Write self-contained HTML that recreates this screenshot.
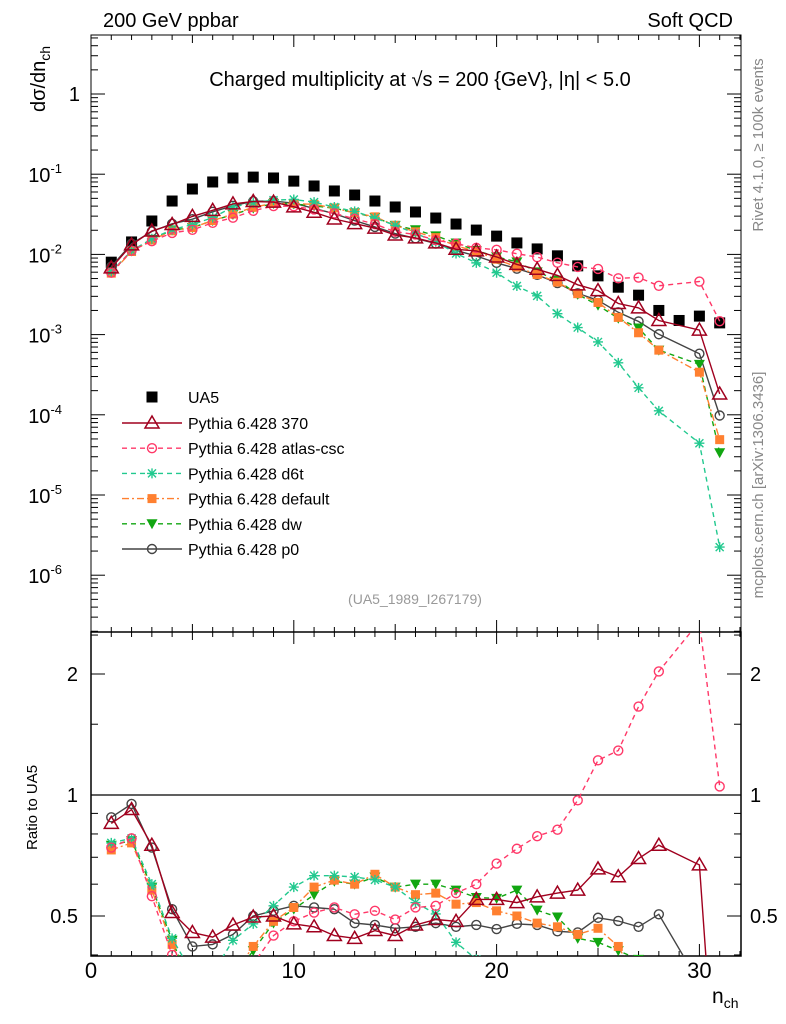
<!DOCTYPE html>
<html><head><meta charset="utf-8"><style>
html,body{margin:0;background:#fff;width:786px;height:1024px;overflow:hidden}
svg{display:block;font-family:"Liberation Sans",sans-serif}
</style></head><body>
<div style="position:relative;width:786px;height:1024px;overflow:hidden">
<svg id="c" width="786" height="1024" viewBox="0 0 786 1024" style="position:absolute;left:0;top:0"></svg>
<svg width="786" height="1024" style="position:absolute;left:0;top:0">
<g font-family="Liberation Sans, sans-serif">
<text x="103" y="27" font-size="20">200 GeV ppbar</text>
<text x="733" y="27" font-size="20" text-anchor="end">Soft QCD</text>
<text x="420" y="86" font-size="20" text-anchor="middle">Charged multiplicity at √s = 200 {GeV}, |η| &lt; 5.0</text>
<text transform="translate(45,112) rotate(-90)" font-size="20">dσ/dn<tspan font-size="14" dy="5">ch</tspan></text>
<text transform="translate(37,850) rotate(-90)" font-size="15">Ratio to UA5</text>
<text x="712" y="1003" font-size="21">n<tspan font-size="14" dy="5">ch</tspan></text>
<text x="415" y="604" font-size="14" fill="#999" text-anchor="middle">(UA5_1989_I267179)</text>
<text transform="translate(763,145) rotate(-90)" font-size="15" fill="#888" text-anchor="middle">Rivet 4.1.0, ≥ 100k events</text>
<text transform="translate(763,485) rotate(-90)" font-size="15" fill="#888" text-anchor="middle">mcplots.cern.ch [arXiv:1306.3436]</text>
</g></svg>
</div>
<script>
const nch=[1,2,3,4,5,6,7,8,9,10,11,12,13,14,15,16,17,18,19,20,21,22,23,24,25,26,27,28,29,30,31];
const ua5=[0.0080,0.0143,0.0261,0.0463,0.0654,0.080,0.0897,0.092,0.0897,0.082,0.0713,0.0618,0.055,0.0463,0.039,0.0338,0.0284,0.0239,0.0201,0.0169,0.0139,0.0117,0.0096,0.0072,0.0054,0.0039,0.0031,0.0020,0.0015,0.0017,0.0014];
const r370=[0.85,0.92,0.75,0.51,0.455,0.443,0.475,0.497,0.50,0.478,0.47,0.447,0.44,0.46,0.447,0.475,0.49,0.485,0.55,0.55,0.54,0.558,0.57,0.58,0.655,0.626,0.695,0.75,null,0.67,0.13];
const ratlas=[0.74,0.78,0.56,0.40,0.31,0.31,0.32,0.38,0.447,0.485,0.51,0.525,0.505,0.515,0.49,0.525,0.53,0.57,0.60,0.675,0.735,0.79,0.82,0.97,1.22,1.29,1.66,2.03,null,2.7,1.05];
const rd6t=[0.76,0.78,0.60,0.44,0.36,0.36,0.435,0.478,0.53,0.59,0.63,0.63,0.625,0.615,0.59,0.54,0.506,0.43,0.39,0.35,0.29,0.26,0.19,0.17,0.15,0.114,0.07,0.056,null,0.026,0.0016];
const rdefault=[0.73,0.76,0.58,0.425,0.33,0.33,0.355,0.42,0.485,0.525,0.59,0.614,0.60,0.635,0.59,0.565,0.57,0.535,0.54,0.515,0.50,0.48,0.47,0.45,0.466,0.42,0.34,0.32,null,0.2,0.035];
const rdw=[0.75,0.77,0.59,0.435,0.33,0.33,0.35,0.41,0.48,0.52,0.565,0.61,0.60,0.625,0.59,0.60,0.60,0.58,0.556,0.553,0.58,0.517,0.497,0.44,0.43,0.41,0.39,0.32,null,0.25,0.024];
const rp0=[0.88,0.95,0.74,0.52,0.42,0.425,0.45,0.50,0.515,0.53,0.525,0.52,0.48,0.475,0.466,0.47,0.48,0.47,0.475,0.464,0.478,0.475,0.458,0.455,0.495,0.486,0.47,0.505,null,0.34,0.07];
const seriesNames=["Pythia 6.428 370","Pythia 6.428 atlas-csc","Pythia 6.428 d6t","Pythia 6.428 default","Pythia 6.428 dw","Pythia 6.428 p0"];
const xTicks=[0,10,20,30];
const ratioTicks=[0.5,1,2];

const NS="http://www.w3.org/2000/svg";
const svg=document.getElementById('c');
const L=91,R=741,T=35,MB=632,B=956;
const X=n=>L+n*20.28;
const Y=v=>94-Math.log10(v)*80.2;
const YR=r=>795-Math.log2(r)*121;
function el(tag,attrs,parent){const e=document.createElementNS(NS,tag);for(const k in attrs)e.setAttribute(k,attrs[k]);(parent||svg).appendChild(e);return e;}
function txt(s,attrs,parent){const e=el('text',attrs,parent);e.textContent=s;return e;}

const defs=el('defs',{});
const cp1=el('clipPath',{id:'cm'},defs);el('rect',{x:L,y:T,width:R-L,height:MB-T},cp1);
const cp2=el('clipPath',{id:'cr'},defs);el('rect',{x:L,y:MB,width:R-L,height:B-MB},cp2);

let f1=el('rect',{x:L,y:T,width:R-L,height:MB-T,fill:'none',stroke:'#000','stroke-width':1});

let f2=el('rect',{x:L,y:MB,width:R-L,height:B-MB,fill:'none',stroke:'#000','stroke-width':1.5});


const axg=el('g',{stroke:'#000','stroke-width':1});

for(let n=0;n<=32;n++){
  const len=(n%10===0)?12:(n%5===0?8:5);const x=X(n);
  if(x>R)break;
  [[B,-1],[MB,1],[MB,-1],[T,1]].forEach(([y,d])=>el('line',{x1:x,x2:x,y1:y,y2:y+d*len},axg));
}
xTicks.forEach(t=>{const e=txt(String(t),{x:X(t),y:978,'text-anchor':'middle','font-size':22});
 });
for(let d=-7;d<=0;d++){for(let m=1;m<=9;m++){const v=m*Math.pow(10,d);const y=Y(v);if(y<T||y>MB)continue;
 const len=m===1?14:7;el('line',{x1:L,x2:L+len,y1:y,y2:y},axg);el('line',{x1:R,x2:R-len,y1:y,y2:y},axg);}}
const ylab=[[0,'1'],[-1,'-1'],[-2,'-2'],[-3,'-3'],[-4,'-4'],[-5,'-5'],[-6,'-6']];
ylab.forEach(([d,s])=>{const y=Y(Math.pow(10,d));
 let e;
 if(d===0){e=txt('1',{x:80,y:y+7,'text-anchor':'end','font-size':20});}
 else{e=txt('10',{x:62,y:y+8,'text-anchor':'end','font-size':20});const sp=el('tspan',{dy:-9,'font-size':13},e);sp.textContent=s;}
 });
[0.4,0.5,0.6,0.7,0.8,0.9,1,1.5,2,2.5].forEach(r=>{const y=YR(r);if(y<MB||y>B)return;const len=(r===0.5||r===1||r===2)?14:7;
 el('line',{x1:L,x2:L+len,y1:y,y2:y},axg);el('line',{x1:R,x2:R-len,y1:y,y2:y},axg);});
ratioTicks.forEach(r=>{const y=YR(r)+7;
 let a=txt(String(r),{x:78,y:y,'text-anchor':'end','font-size':20});
 let b=txt(String(r),{x:750,y:y,'font-size':20});});
let one=el('line',{x1:L,x2:R,y1:YR(1),y2:YR(1),stroke:'#000','stroke-width':1.2});


const styles=[
 {c:'#a0001e',dash:'',m:'tri'},
 {c:'#ff3868',dash:'5,4',m:'circ'},
 {c:'#22c98f',dash:'5,4',m:'star'},
 {c:'#ff8030',dash:'7,3,2,3',m:'sq'},
 {c:'#11a611',dash:'5,4',m:'dtri'},
 {c:'#444444',dash:'',m:'circ'}];
const ratios=[r370,ratlas,rd6t,rdefault,rdw,rp0];

function marker(g,type,x,y,c){
 if(type==='tri')return el('path',{d:`M${x},${y-7}L${x+7},${y+5}L${x-7},${y+5}Z`,fill:'none',stroke:c,'stroke-width':1.5},g);
 if(type==='circ')return el('circle',{cx:x,cy:y,r:4.5,fill:'none',stroke:c,'stroke-width':1.4},g);
 if(type==='sq')return el('rect',{x:x-4.5,y:y-4.5,width:9,height:9,fill:c},g);
 if(type==='bsq')return el('rect',{x:x-5.5,y:y-5.5,width:11,height:11,fill:c},g);
 if(type==='dtri')return el('path',{d:`M${x-5.5},${y-4.5}L${x+5.5},${y-4.5}L${x},${y+5.5}Z`,fill:c},g);
 if(type==='star')return el('path',{d:`M${x-5},${y}H${x+5}M${x},${y-5}V${y+5}M${x-4},${y-4}L${x+4},${y+4}M${x+4},${y-4}L${x-4},${y+4}`,stroke:c,'stroke-width':1.4},g);
}
function drawSeries(g,pts,st){
 let d='';pts.forEach((p,i)=>{d+=(i?'L':'M')+p[0].toFixed(1)+','+p[1].toFixed(1);});
 el('path',{d:d,fill:'none',stroke:st.c,'stroke-width':1.4,'stroke-dasharray':st.dash},g);
 pts.forEach(p=>marker(g,st.m,p[0],p[1],st.c));
}
const mg=el('g',{'clip-path':'url(#cm)'});
const rg=el('g',{'clip-path':'url(#cr)'});
const dg=el('g',{},mg);
nch.forEach((n,i)=>marker(dg,'bsq',X(n),Y(ua5[i]),'#000'));
for(let s=5;s>=0;s--){
 const st=styles[s];const rr=ratios[s];
 const g=el('g',{},mg);
 const pts=[],rpts=[];
 nch.forEach((n,i)=>{if(rr[i]==null)return;pts.push([X(n),Y(rr[i]*ua5[i])]);rpts.push([X(n),YR(rr[i])]);});
 drawSeries(g,pts,st);
 const g2=el('g',{},rg);
 drawSeries(g2,rpts,st);
}
const lg=el('g',{});
marker(lg,'bsq',152,397,'#000');
let lt=txt('UA5',{x:188,y:403,'font-size':16},lg);
seriesNames.forEach((nm,i)=>{const y=423+i*25.2;const st=styles[i];
 el('line',{x1:122,x2:182,y1:y,y2:y,stroke:st.c,'stroke-width':1.4,'stroke-dasharray':st.dash},lg);
 marker(lg,st.m,152,y,st.c);
 const t=txt(nm,{x:188,y:y+6,'font-size':16},lg);});
</script>
</body></html>
